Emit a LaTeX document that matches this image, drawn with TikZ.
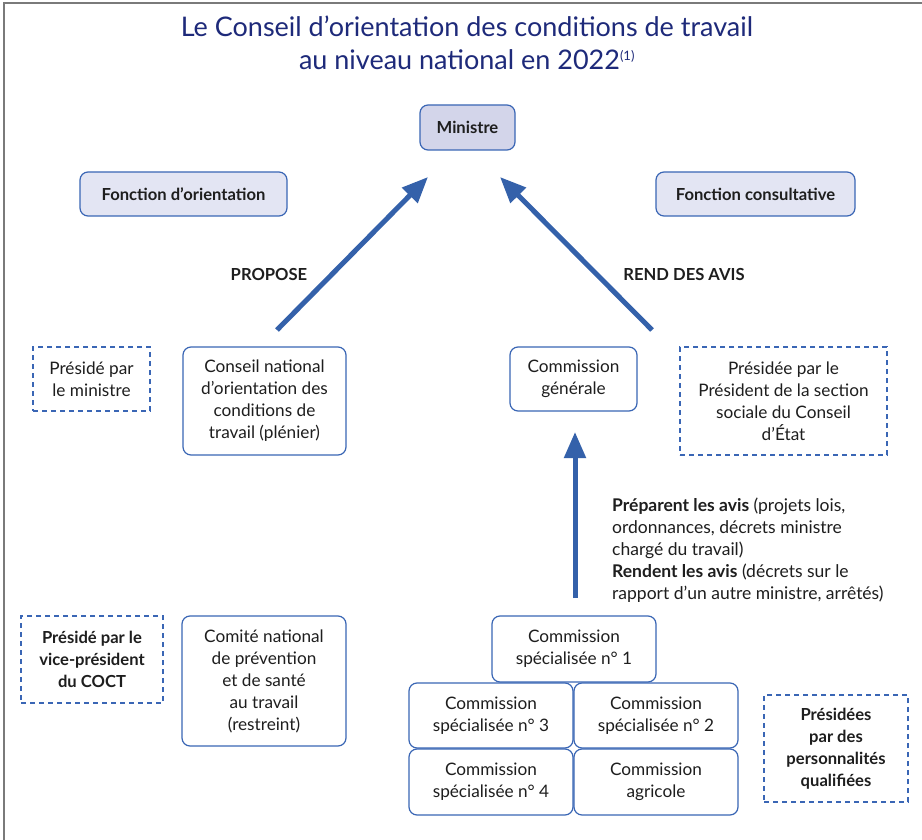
\documentclass[tikz,border=0pt]{standalone}
\usepackage{fontspec}
\setmainfont{Lato}
\usetikzlibrary{arrows.meta}
\definecolor{bordblue}{HTML}{3A66B5}
\definecolor{arrblue}{HTML}{3461AA}
\definecolor{minfill}{HTML}{D3D5EA}
\definecolor{fonfill}{HTML}{E3E5F3}
\definecolor{titlecol}{HTML}{1E2A7A}
\definecolor{txt}{HTML}{1E1E1E}
\definecolor{frame}{HTML}{7A7A7A}
\newcommand{\bodyfont}{\fontsize{17.2}{22}\selectfont}
\newcommand{\boldfont}{\fontsize{16.6}{22}\selectfont\bfseries}
\tikzset{
  base/.style={align=center, text=txt, inner sep=0pt, font=\bodyfont},
  solidbox/.style={base, draw=bordblue, line width=1.2pt, rounded corners=8pt},
  fillbox/.style={solidbox, font=\boldfont},
  dashbox/.style={base, draw=bordblue, line width=1.2pt, dash pattern=on 5pt off 4pt},
  bigarrow/.style={draw=arrblue, line width=5pt, -{Triangle[length=26pt,width=21pt]}},
  lbl/.style={base, font=\boldfont},
}
\begin{document}
\begin{tikzpicture}[x=1pt,y=-1pt]
\useasboundingbox (0,0) rectangle (922,840);
\fill[white] (0,0) rectangle (922,840);
\draw[frame, line width=1.6pt] (4,840) -- (4,3) -- (922,3);

\node[text=titlecol, font=\fontsize{27}{33}\selectfont, align=center] (title) at (467,43)
  {Le Conseil d’orientation des conditions de travail\\au niveau national en 2022\textsuperscript{\fontsize{13}{14}\selectfont(1)}};

\node[fillbox, fill=minfill, minimum width=95pt, minimum height=45pt] (ministre) at (467.5,127.5) {Ministre};
\node[fillbox, fill=fonfill, minimum width=207pt, minimum height=44pt] (forient) at (183.5,194) {Fonction d’orientation};
\node[fillbox, fill=fonfill, minimum width=199pt, minimum height=44pt] (fconsult) at (755.5,194) {Fonction consultative};

\node[lbl] (propose) at (269,274) {PROPOSE};
\node[lbl] (rend) at (684,274) {REND DES AVIS};

\node[dashbox, minimum width=117pt, minimum height=64pt] (pres1) at (91.5,379) {Présidé par\\le ministre};
\node[solidbox, minimum width=163pt, minimum height=108pt] (cnoct) at (264.5,401) {Conseil national\\d’orientation des\\conditions de\\travail (plénier)};
\node[solidbox, minimum width=127pt, minimum height=64pt] (cgen) at (573.5,379) {Commission\\générale};
\node[dashbox, minimum width=207pt, minimum height=108pt] (pres2) at (783.5,401) {Présidée par le\\Président de la section\\sociale du Conseil\\d’État};

\coordinate (a1s) at (277,330);
\coordinate (a1e) at (428,177);
\coordinate (a2s) at (652,330);
\coordinate (a2e) at (500,177);
\coordinate (a3s) at (575,598);
\coordinate (a3e) at (575,432);
\draw[bigarrow] (a1s) -- (a1e);
\draw[bigarrow] (a2s) -- (a2e);
\draw[bigarrow] (a3s) -- (a3e);

\node[base, align=left, anchor=north west, font=\fontsize{17.5}{22}\selectfont] (avis) at (612,498)
  {\textbf{Préparent les avis} (projets lois,\\ordonnances, décrets ministre\\chargé du travail)\\\textbf{Rendent les avis} (décrets sur le\\rapport d’un autre ministre, arrêtés)};

\node[dashbox, font=\boldfont, minimum width=142pt, minimum height=87pt] (pres3) at (92,659.5) {Présidé par le\\vice-président\\du COCT};
\node[solidbox, minimum width=164pt, minimum height=130pt] (cnps) at (264,681) {Comité national\\de prévention\\et de santé\\au travail\\(restreint)};

\node[solidbox, minimum width=164pt, minimum height=66pt] (cs1) at (574,649) {Commission\\spécialisée n° 1};
\node[solidbox, minimum width=164pt, minimum height=65pt] (cs3) at (491,715.5) {Commission\\spécialisée n° 3};
\node[solidbox, minimum width=164pt, minimum height=65pt] (cs2) at (656,715.5) {Commission\\spécialisée n° 2};
\node[solidbox, minimum width=164pt, minimum height=66pt] (cs4) at (491,782) {Commission\\spécialisée n° 4};
\node[solidbox, minimum width=164pt, minimum height=66pt] (cagr) at (656,782) {Commission\\agricole};

\node[dashbox, font=\boldfont, minimum width=144pt, minimum height=107pt] (pres4) at (836,748.5) {Présidées\\par des\\personnalités\\qualifiées};
\end{tikzpicture}
\end{document}
